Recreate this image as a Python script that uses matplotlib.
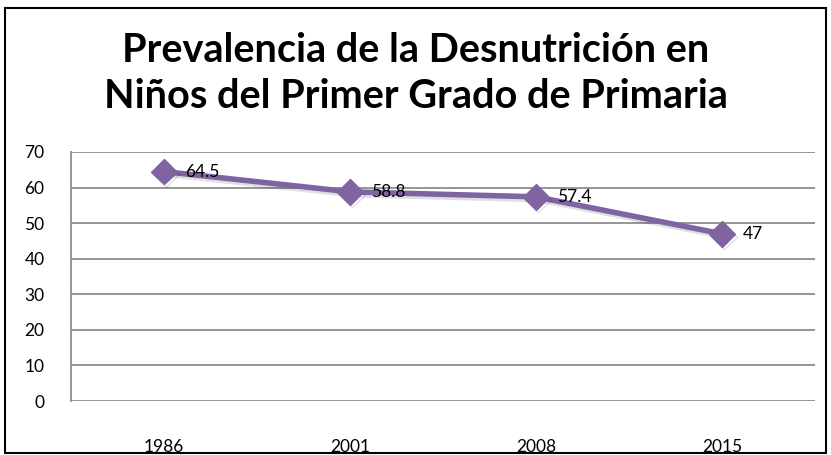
import matplotlib
matplotlib.use("Agg")
import matplotlib.pyplot as plt
import matplotlib.patheffects as pe
from matplotlib.patches import Rectangle

years = ["1986", "2001", "2008", "2015"]
values = [64.5, 58.8, 57.4, 47]
yticks = [0, 10, 20, 30, 40, 50, 60, 70]
title = "Prevalencia de la Desnutrición en\nNiños del Primer Grado de Primaria"

plt.rcParams['font.family'] = ['Lato', 'DejaVu Sans']

W, H = 831, 455
fig = plt.figure(figsize=(W / 100, H / 100), dpi=100)
fig.patches.append(Rectangle((5 / W, 2 / H), 821 / W, (H - 10) / H, transform=fig.transFigure,
                             fill=False, edgecolor="black", linewidth=1.5))

ax = fig.add_axes([71 / W, (H - 401) / H, (815 - 71) / W, (401 - 152) / H])
x = list(range(len(years)))
line, = ax.plot(x, values, color="#8064A2", linewidth=4, marker="D", markersize=13,
                path_effects=[pe.SimpleLineShadow(offset=(1.5, -2), alpha=0.12), pe.Normal()],
                zorder=3)
for xi, v in zip(x, values):
    ax.annotate(f"{v:g}", (xi, v), xytext=(15, 0), textcoords="offset points",
                ha="left", va="center", fontsize=12.5, color="black", zorder=4)

ax.set_xlim(-0.5, len(years) - 0.5)
ax.set_ylim(0, 70)
ax.set_yticks(yticks)
ax.set_xticks(x)
ax.set_xticklabels(years)
ax.yaxis.grid(True, color="#8c8c8c", linewidth=1.3)
ax.set_axisbelow(True)
for s in ["top", "right", "bottom"]:
    ax.spines[s].set_visible(False)
ax.spines["left"].set_color("#8c8c8c")
ax.spines["left"].set_linewidth(1.3)
ax.tick_params(axis="both", length=0, labelsize=12.5, colors="black")
ax.tick_params(axis="y", pad=19)
ax.tick_params(axis="x", pad=27)

fig.text(0.5, 1 - 73 / H, title, ha="center", va="center", fontsize=28.5, fontweight="bold",
         linespacing=1.3)

fig.savefig("out.png", dpi=100)
